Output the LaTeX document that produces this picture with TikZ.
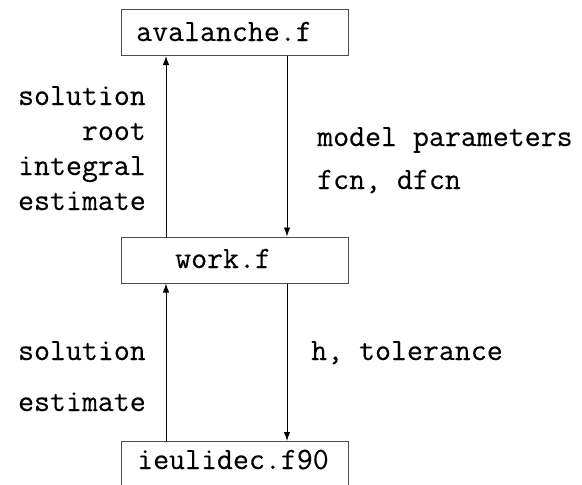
\documentclass[tikz,border=0pt]{standalone}
\usepackage{fontspec}
\setmonofont[FakeBold=0.3]{Latin Modern Mono}
\usetikzlibrary{arrows.meta}
\begin{document}
\begin{tikzpicture}[x=1pt,y=-1pt,
  box/.style={draw=black!70,line width=1pt,minimum width=227pt,minimum height=46pt,inner sep=0pt,anchor=north west},
  txt/.style={font=\fontsize{31}{37.5}\selectfont\ttfamily,inner sep=0pt},
  flow/.style={line width=0.9pt,-{Latex[length=9pt,width=6.5pt]}}]
\useasboundingbox (0,0) rectangle (582,485);
\clip (0,0) rectangle (582,485);
\node[box] (av) at (121,9) {};
\node[box] (wk) at (121,236.5) {};
\node[box] (ie) at (121,441) {};
\node[txt,anchor=base west] (avt) at (136,41) {avalanche.f};
\node[txt,anchor=base west] (wkt) at (175,268) {work.f};
\node[txt,anchor=base west] (iet) at (137,469) {ieulidec.f90};
\draw[flow] (wk.north west -| 166,0) -- (av.south west -| 166,0);
\draw[flow] (av.south west -| 287,0) -- (wk.north west -| 287,0);
\draw[flow] (ie.north west -| 166,0) -- (wk.south west -| 166,0);
\draw[flow] (wk.south west -| 287,0) -- (ie.north west -| 287,0);
\node[txt,anchor=base east] (l1) at (146,105) {solution};
\node[txt,anchor=base east] (l2) at (146,140) {root};
\node[txt,anchor=base east] (l3) at (146,175) {integral};
\node[txt,anchor=base east] (l4) at (146,210) {estimate};
\node[txt,anchor=base west] (r1) at (317,146) {model parameters};
\node[txt,anchor=base west] (r2) at (317,189) {fcn, dfcn};
\node[txt,anchor=base east] (l5) at (146,360) {solution};
\node[txt,anchor=base east] (l6) at (146,411) {estimate};
\node[txt,anchor=base west] (r3) at (311,360) {h, tolerance};
\end{tikzpicture}
\end{document}
